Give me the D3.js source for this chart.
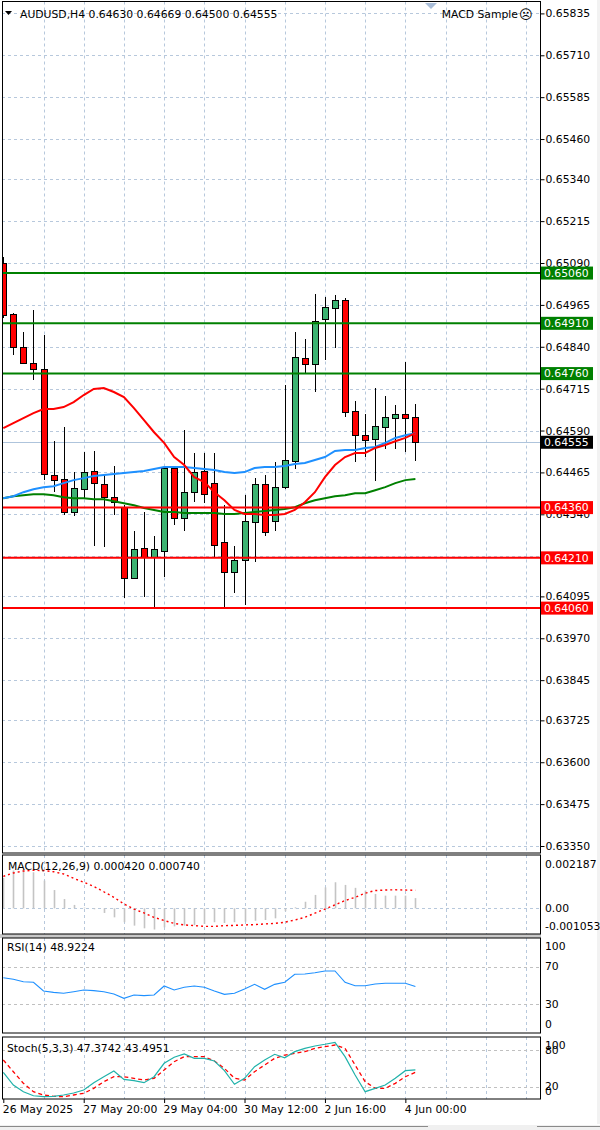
<!DOCTYPE html>
<html><head><meta charset="utf-8">
<script src="https://cdn.jsdelivr.net/npm/d3@7"></script>
<style>
html,body{margin:0;padding:0;background:#fff;}
svg{display:block;font-family:"DejaVu Sans",sans-serif;}
</style></head><body>
<svg id="chart" width="600" height="1130"></svg>
<script>
// ---------------- DATA ----------------
const symbolTitle = "AUDUSD,H4 0.64630 0.64669 0.64500 0.64555";
const eaName = "MACD Sample";
const opens  = [0.65090,0.64938,0.64839,0.64791,0.64773,0.64457,0.64445,0.64347,0.64415,0.64469,0.64430,0.64391,0.64361,0.64150,0.64239,0.64212,0.64230,0.64478,0.64329,0.64406,0.64469,0.64433,0.64257,0.64168,0.64203,0.64317,0.64430,0.64320,0.64421,0.64499,0.64806,0.64788,0.64923,0.64956,0.64979,0.64648,0.64576,0.64564,0.64600,0.64627,0.64639,0.64630];
const highs  = [0.65108,0.64940,0.64884,0.64950,0.64875,0.64559,0.64600,0.64466,0.64526,0.64529,0.64457,0.64484,0.64367,0.64290,0.64347,0.64275,0.64481,0.64484,0.64591,0.64523,0.64523,0.64523,0.64367,0.64245,0.64397,0.64448,0.64457,0.64496,0.64726,0.64884,0.64863,0.64997,0.64988,0.64994,0.64985,0.64678,0.64639,0.64717,0.64693,0.64666,0.64794,0.64669];
const lows   = [0.64926,0.64815,0.64789,0.64741,0.64442,0.64406,0.64338,0.64335,0.64388,0.64245,0.64242,0.64338,0.64090,0.64148,0.64093,0.64060,0.64153,0.64308,0.64290,0.64376,0.64373,0.64212,0.64060,0.64105,0.64069,0.64197,0.64275,0.64290,0.64415,0.64475,0.64762,0.64705,0.64800,0.64836,0.64630,0.64496,0.64511,0.64440,0.64535,0.64535,0.64526,0.64500];
const closes = [0.64935,0.64839,0.64791,0.64773,0.64460,0.64442,0.64347,0.64418,0.64466,0.64433,0.64391,0.64376,0.64150,0.64236,0.64212,0.64236,0.64478,0.64329,0.64406,0.64466,0.64400,0.64248,0.64168,0.64203,0.64320,0.64430,0.64287,0.64421,0.64502,0.64809,0.64788,0.64917,0.64959,0.64979,0.64645,0.64576,0.64562,0.64603,0.64630,0.64639,0.64627,0.64555];
const maRed   = [0.64597,0.64612,0.64627,0.64642,0.64654,0.64654,0.64660,0.64675,0.64696,0.64714,0.64717,0.64705,0.64690,0.64657,0.64621,0.64585,0.64553,0.64511,0.64487,0.64451,0.64436,0.64406,0.64382,0.64353,0.64341,0.64341,0.64338,0.64338,0.64341,0.64353,0.64376,0.64406,0.64451,0.64487,0.64511,0.64523,0.64523,0.64538,0.64547,0.64558,0.64568,0.64582];
const maBlue  = [0.64388,0.64394,0.64406,0.64415,0.64421,0.64424,0.64433,0.64442,0.64448,0.64454,0.64457,0.64460,0.64463,0.64466,0.64469,0.64475,0.64481,0.64481,0.64481,0.64478,0.64475,0.64472,0.64466,0.64463,0.64466,0.64478,0.64481,0.64481,0.64484,0.64490,0.64493,0.64502,0.64511,0.64529,0.64532,0.64532,0.64538,0.64541,0.64553,0.64568,0.64576,0.64582];
const maGreen = [0.64388,0.64394,0.64397,0.64400,0.64400,0.64397,0.64391,0.64388,0.64388,0.64385,0.64385,0.64379,0.64373,0.64367,0.64359,0.64353,0.64347,0.64347,0.64344,0.64344,0.64344,0.64344,0.64341,0.64341,0.64344,0.64347,0.64350,0.64353,0.64356,0.64361,0.64373,0.64382,0.64388,0.64394,0.64397,0.64403,0.64403,0.64412,0.64421,0.64433,0.64442,0.64445];
const resistanceLevels = [0.65060,0.64910,0.64760];
const supportLevels    = [0.64360,0.64210,0.64060];
const bidPrice = 0.64555;
const priceTickLabels = ["0.65835","0.65710","0.65585","0.65460","0.65340","0.65215","0.65090","0.64965","0.64840","0.64715","0.64590","0.64465","0.64340","0.64215","0.64095","0.63970","0.63845","0.63725","0.63600","0.63475","0.63350"];
const macdHist   = [0.00125,0.00155,0.00159,0.00148,0.00114,0.00075,0.00038,0.00014,0.00003,-0.00004,-0.00019,-0.00037,-0.00057,-0.00071,-0.00082,-0.00087,-0.00078,-0.00074,-0.00071,-0.00069,-0.00064,-0.00057,-0.00060,-0.00057,-0.00055,-0.00051,-0.00048,-0.00041,-0.00012,0.00004,0.00027,0.00055,0.00086,0.00107,0.00096,0.00084,0.00073,0.00059,0.00052,0.00052,0.00052,0.00042];
const macdSignal = [0.00131,0.00145,0.00153,0.00156,0.00155,0.00150,0.00141,0.00123,0.00107,0.00090,0.00068,0.00045,0.00018,-0.00003,-0.00019,-0.00037,-0.00050,-0.00062,-0.00068,-0.00071,-0.00074,-0.00074,-0.00071,-0.00070,-0.00068,-0.00067,-0.00064,-0.00062,-0.00057,-0.00048,-0.00037,-0.00020,-0.00003,0.00014,0.00032,0.00045,0.00062,0.00073,0.00075,0.00076,0.00075,0.00074];
const macdAxisLabels = ["0.002187","0.00","-0.001053"];
const macdTitle = "MACD(12,26,9) 0.000420 0.000740";
const rsiValues = [58.2,56.5,54.0,53.4,44.2,42.8,41.8,43.5,45.3,44.6,43.5,41.1,36.5,40.0,39.3,40.0,49.5,45.3,48.1,49.5,48.1,44.2,40.7,41.8,46.3,51.2,46.0,51.2,53.4,61.8,62.1,63.5,65.3,65.3,53.4,49.8,49.8,51.6,52.3,52.3,52.3,48.9];
const rsiTitle = "RSI(14) 48.9224";
const rsiAxisLabels = ["100","70","30","0"];
const rsiLevels = [70,30];
const stochK = [43.5,22.7,11.8,5.2,3.6,4.1,6.4,9.7,14.6,26.5,36.3,45.7,32.0,29.8,26.5,36.3,58.3,68.1,73.5,66.4,66.4,62.0,46.2,23.9,33.7,52.7,63.7,73.0,67.4,77.3,82.8,86.6,89.4,92.6,69.1,39.1,11.8,17.3,22.7,33.7,46.2,47.4];
const stochD = [63.7,44.5,25.5,11.8,6.4,4.1,3.6,6.4,9.2,17.3,28.2,36.3,36.3,33.7,30.9,33.7,47.3,60.9,69.1,69.1,69.1,62.0,50.0,33.7,30.9,44.5,55.5,66.4,71.8,74.6,77.3,82.8,85.4,88.2,82.8,55.5,28.2,17.3,17.3,25.5,36.3,43.5];
const stochTitle = "Stoch(5,3,3) 47.3742 43.4951";
const stochAxisLabels = ["100","80","20","0"];
const stochLevels = [80,20];
const timeLabels = ["26 May 2025","27 May 20:00","29 May 04:00","30 May 12:00","2 Jun 16:00","4 Jun 00:00"];
const timeLabelBars = [0,8,16,24,32,40];

// ---------------- LAYOUT ----------------
const svg = d3.select("#chart");
const FS = 10.8;
const L = 2, R = 540;
const P = {main:{t:1.5,b:853}, macd:{t:855,b:934}, rsi:{t:938,b:1033}, sto:{t:1037,b:1099}};
const x  = d3.scaleLinear().domain([0,41]).range([3.3,415.4]);
const y  = d3.scaleLinear().domain([0.63350,0.65835]).range([846,13.4]);
const yM = d3.scaleLinear().domain([-0.001053,0.002187]).range([934,855]);
const yR = d3.scaleLinear().domain([0,100]).range([1033,938]);
const yS = d3.scaleLinear().domain([0,100]).range([1098.9,1037.8]);
const px = v => Math.round(v) + 0.5;
const gridColor = "#b7c8dc";

const defs = svg.append("defs");
Object.entries(P).forEach(([k,p]) => {
  defs.append("clipPath").attr("id","clip-"+k).append("rect")
    .attr("x",L).attr("y",p.t).attr("width",R-L).attr("height",p.b-p.t);
});

// separators / frame
svg.append("rect").attr("x",0).attr("y",934).attr("width",R+1).attr("height",4).attr("fill","#c8c8c8");
svg.append("rect").attr("x",597).attr("y",0).attr("width",3).attr("height",1124).attr("fill","#f2f2f2");
svg.append("rect").attr("x",0).attr("y",1125).attr("width",600).attr("height",5).attr("fill","#f0f0f0");
svg.append("line").attr("x1",0).attr("x2",428).attr("y1",1126.5).attr("y2",1126.5).attr("stroke","#8a8a8a");
svg.append("line").attr("x1",537).attr("x2",600).attr("y1",1126.5).attr("y2",1126.5).attr("stroke","#8a8a8a");

// vertical grid in all panels
const gridBars = d3.range(4, 53, 4);
Object.entries(P).forEach(([k,p]) => {
  svg.append("g").attr("clip-path",`url(#clip-${k})`).selectAll("line").data(gridBars).join("line")
    .attr("x1",d=>px(x(d))).attr("x2",d=>px(x(d))).attr("y1",p.t).attr("y2",p.b)
    .attr("stroke",gridColor).attr("stroke-dasharray","3,3");
});

// ---------------- MAIN PANEL ----------------
const priceTicks = priceTickLabels.map(Number);
const gm = svg.append("g").attr("clip-path","url(#clip-main)");
gm.selectAll("line.hg").data(priceTicks).join("line").attr("class","hg")
  .attr("x1",L).attr("x2",R).attr("y1",d=>px(y(d))).attr("y2",d=>px(y(d)))
  .attr("stroke",gridColor).attr("stroke-dasharray","3,3");
// bid line
gm.append("line").attr("x1",L).attr("x2",R).attr("y1",px(y(bidPrice))).attr("y2",px(y(bidPrice)))
  .attr("stroke","#aec4dc").attr("stroke-width",1);

const bars = opens.map((o,i)=>({i,o,h:highs[i],l:lows[i],c:closes[i]}));
gm.selectAll("line.wick").data(bars).join("line").attr("class","wick")
  .attr("x1",d=>px(x(d.i))).attr("x2",d=>px(x(d.i)))
  .attr("y1",d=>Math.round(y(d.h))).attr("y2",d=>Math.round(y(d.l)))
  .attr("stroke","#000").attr("stroke-width",1);
gm.selectAll("rect.body").data(bars).join("rect").attr("class","body")
  .attr("x",d=>Math.round(x(d.i))-3+0.5).attr("width",6)
  .attr("y",d=>Math.round(y(Math.max(d.o,d.c)))+0.5)
  .attr("height",d=>Math.max(1,Math.round(y(Math.min(d.o,d.c)))-Math.round(y(Math.max(d.o,d.c)))))
  .attr("fill",d=>d.c>=d.o?"#3cb371":"#ff0000").attr("stroke","#000").attr("stroke-width",1);

const mline = d3.line().x((d,i)=>x(i)).y(d=>y(d));
[[maGreen,"#008000"],[maBlue,"#1e90ff"],[maRed,"#ff0000"]].forEach(([arr,col])=>{
  gm.append("path").attr("d",mline(arr)).attr("fill","none").attr("stroke",col).attr("stroke-width",2);
});

resistanceLevels.forEach(v=>gm.append("line").attr("x1",L).attr("x2",R).attr("y1",y(v)).attr("y2",y(v)).attr("stroke","#008000").attr("stroke-width",2));
supportLevels.forEach(v=>gm.append("line").attr("x1",L).attr("x2",R).attr("y1",y(v)).attr("y2",y(v)).attr("stroke","#ff0000").attr("stroke-width",2));

// price axis
const axisMain = d3.axisRight(y).tickValues(priceTicks).tickFormat((d,i)=>priceTickLabels[i]).tickSize(4).tickPadding(1);
const ga = svg.append("g").attr("transform",`translate(${R+0.5},0)`).call(axisMain);
ga.select(".domain").remove();
ga.selectAll("line").attr("stroke","#000");
ga.selectAll("text").attr("font-size",FS).attr("font-family","DejaVu Sans").attr("fill","#000");

// level label boxes
function priceBox(v, fill){
  const yy = y(v);
  svg.append("rect").attr("x",541).attr("y",yy-6.5).attr("width",52).attr("height",13).attr("fill",fill);
  svg.append("text").attr("x",544).attr("y",yy).attr("dy","0.35em").attr("font-size",FS).attr("fill","#fff").text(v.toFixed(5));
}
resistanceLevels.forEach(v=>priceBox(v,"#008000"));
supportLevels.forEach(v=>priceBox(v,"#ff0000"));
priceBox(bidPrice,"#000");

// header
svg.append("path").attr("d","M5,11 L12,11 L8.5,15 Z").attr("fill","#000");
svg.append("text").attr("x",20).attr("y",18).attr("font-size",FS).attr("fill","#000").text(symbolTitle);
svg.append("path").attr("d","M425,3 L437,3 L431,9 Z").attr("fill","#a9bdd8");
svg.append("text").attr("x",518).attr("y",18).attr("text-anchor","end").attr("font-size",FS).attr("fill","#000").text(eaName);
svg.append("text").attr("x",519).attr("y",19).attr("font-size",13).attr("fill","#000").text("\u2639");

// ---------------- MACD ----------------
const gmc = svg.append("g").attr("clip-path","url(#clip-macd)");
gmc.append("line").attr("x1",L).attr("x2",R).attr("y1",px(yM(0))).attr("y2",px(yM(0))).attr("stroke",gridColor).attr("stroke-dasharray","3,3");
gmc.selectAll("line.h").data(macdHist).join("line").attr("class","h")
  .attr("x1",(d,i)=>px(x(i))).attr("x2",(d,i)=>px(x(i)))
  .attr("y1",yM(0)).attr("y2",d=>yM(d)).attr("stroke","#c4c4c4").attr("stroke-width",1.6);
gmc.append("path").attr("d",d3.line().x((d,i)=>x(i)).y(d=>yM(d))(macdSignal))
  .attr("fill","none").attr("stroke","#ff0000").attr("stroke-width",1.4).attr("stroke-dasharray","2,3");
svg.append("text").attr("x",8).attr("y",870).attr("font-size",FS).text(macdTitle);
const macdVals = macdAxisLabels.map(Number);
svg.selectAll("text.macdax").data(macdVals).join("text").attr("class","macdax")
  .attr("x",545).attr("y",d=>Math.min(Math.max(yM(d),P.macd.t+9),P.macd.b-8)).attr("dy","0.35em")
  .attr("font-size",FS).text((d,i)=>macdAxisLabels[i]);

// ---------------- RSI ----------------
const gr = svg.append("g").attr("clip-path","url(#clip-rsi)");
gr.selectAll("line.lv").data(rsiLevels).join("line").attr("class","lv")
  .attr("x1",L).attr("x2",R).attr("y1",d=>px(yR(d))).attr("y2",d=>px(yR(d))).attr("stroke","#c0c0c0").attr("stroke-dasharray","3,3");
gr.append("path").attr("d",d3.line().x((d,i)=>x(i)).y(d=>yR(d))(rsiValues))
  .attr("fill","none").attr("stroke","#1e90ff").attr("stroke-width",1.1);
svg.append("text").attr("x",7).attr("y",951).attr("font-size",FS).text(rsiTitle);
svg.selectAll("text.rsiax").data(rsiAxisLabels.map(Number)).join("text").attr("class","rsiax")
  .attr("x",545).attr("y",d=>Math.min(Math.max(yR(d),P.rsi.t+8),P.rsi.b-9)).attr("dy","0.35em")
  .attr("font-size",FS).text((d,i)=>rsiAxisLabels[i]);

// ---------------- STOCH ----------------
const gs = svg.append("g").attr("clip-path","url(#clip-sto)");
gs.selectAll("line.lv").data(stochLevels).join("line").attr("class","lv")
  .attr("x1",L).attr("x2",R).attr("y1",d=>px(yS(d))).attr("y2",d=>px(yS(d))).attr("stroke","#c0c0c0").attr("stroke-dasharray","3,3");
gs.append("path").attr("d",d3.line().x((d,i)=>x(i)).y(d=>yS(d))(stochD))
  .attr("fill","none").attr("stroke","#ff0000").attr("stroke-width",1.3).attr("stroke-dasharray","4,3");
gs.append("path").attr("d",d3.line().x((d,i)=>x(i)).y(d=>yS(d))(stochK))
  .attr("fill","none").attr("stroke","#20b2aa").attr("stroke-width",1.2);
svg.append("text").attr("x",7).attr("y",1052).attr("font-size",FS).text(stochTitle);
svg.selectAll("text.stax").data(stochAxisLabels.map(Number)).join("text").attr("class","stax")
  .attr("x",545).attr("y",d=>Math.min(Math.max(yS(d),P.sto.t+8),P.sto.b-8)).attr("dy","0.35em")
  .attr("font-size",FS).text((d,i)=>stochAxisLabels[i]);

// panel borders
Object.values(P).forEach(p=>{
  svg.append("rect").attr("x",L+0.5).attr("y",p.t).attr("width",R-L).attr("height",p.b-p.t)
    .attr("fill","none").attr("stroke","#000").attr("stroke-width",1);
});

// time axis
const axisTime = d3.axisBottom(x).tickValues(timeLabelBars).tickFormat((d,i)=>timeLabels[i]).tickSize(4).tickPadding(2);
const gt = svg.append("g").attr("transform",`translate(0,${P.sto.b})`).call(axisTime);
gt.select(".domain").remove();
gt.selectAll("line").attr("stroke","#000");
gt.selectAll("text").attr("font-size",FS).attr("font-family","DejaVu Sans").attr("fill","#000")
  .attr("text-anchor","start").attr("dx",-1);
</script>
</body></html>
